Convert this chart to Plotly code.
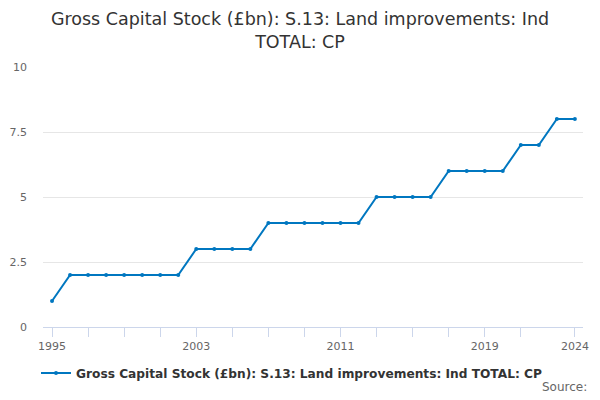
import plotly.graph_objects as go

years = list(range(1995, 2025))
values = [1, 2, 2, 2, 2, 2, 2, 2, 3, 3, 3, 3, 4, 4, 4, 4, 4, 4,
          5, 5, 5, 5, 6, 6, 6, 6, 7, 7, 8, 8]
series_name = "Gross Capital Stock (£bn): S.13: Land improvements: Ind TOTAL: CP"
x_tick_vals = list(range(1995, 2022, 2)) + [2024]
x_labelled = [1995, 2003, 2011, 2019, 2024]
y_tick_vals = [0, 2.5, 5, 7.5, 10]
y_tick_text = ["0", "2.5", "5", "7.5", "10"]

line_color = "#0077c0"

# page body has an 8px default margin, so the figure is 8px smaller
W, H = 592, 392

fig = go.Figure()
fig.add_trace(go.Scatter(
    x=years, y=values, mode="lines+markers", name=series_name,
    line=dict(color=line_color, width=2),
    marker=dict(color=line_color, size=4),
))

fig.update_layout(
    width=W, height=H,
    margin=dict(l=35, r=17, t=59, b=73, autoexpand=False),
    paper_bgcolor="white", plot_bgcolor="white",
    font=dict(family="DejaVu Sans", color="#666666", size=11),
    title=dict(
        text="Gross Capital Stock (£bn): S.13: Land improvements: Ind<br>TOTAL: CP",
        x=292 / W, xanchor="center", y=0.956, yanchor="top",
        font=dict(size=17.5, color="#333333", family="DejaVu Sans"),
    ),
    showlegend=True,
    legend=dict(
        orientation="h", xref="container", x=28 / W, xanchor="left",
        y=-0.177, yanchor="middle",
        font=dict(size=12.2, color="#333333", family="DejaVu Sans", weight="bold"),
    ),
    xaxis=dict(
        range=[1994.5, 2024.45],
        tickvals=x_tick_vals,
        ticktext=[str(v) if v in x_labelled else "" for v in x_tick_vals],
        ticks="outside", ticklen=9, tickcolor="#ccd6eb",
        showline=True, linecolor="#ccd6eb", linewidth=1,
        showgrid=False, zeroline=False, automargin=False,
        tickfont=dict(size=11, color="#666666"),
    ),
    yaxis=dict(
        range=[0, 10],
        tickvals=y_tick_vals, ticktext=y_tick_text,
        showgrid=True, gridcolor="#e6e6e6", zeroline=False,
        showline=False, ticks="", ticklabelstandoff=15, automargin=False,
        tickfont=dict(size=11, color="#666666"),
    ),
    annotations=[dict(
        text="Source:", xref="paper", yref="paper", x=1.0111, y=-0.2308,
        xanchor="right", yanchor="middle", showarrow=False,
        font=dict(size=12, color="#666666", family="DejaVu Sans"),
    )],
)

fig.write_html("out.html")
